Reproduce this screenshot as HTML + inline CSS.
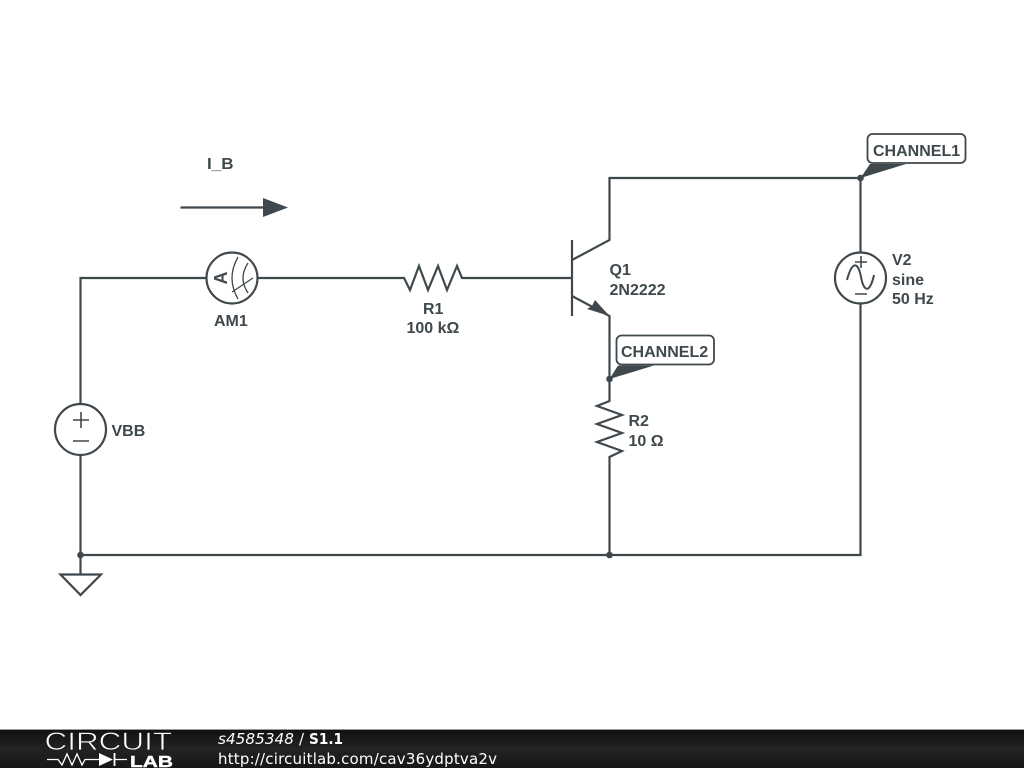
<!DOCTYPE html>
<html lang="en">
<head>
<meta charset="utf-8">
<title>S1.1</title>
<style>
html,body{margin:0;padding:0;width:1024px;height:768px;overflow:hidden;background:#fff}
svg{display:block}
.l{font-family:"Liberation Sans",sans-serif;font-weight:bold;font-size:16px;fill:#3f484c}
.w{fill:none;stroke:#3f484c;stroke-width:2.2;stroke-linejoin:miter}
.t{fill:none;stroke:#3f484c;stroke-width:1.3}
.f{font-family:"DejaVu Sans",sans-serif;font-size:15px;fill:#fff}
</style>
</head>
<body>
<svg width="1024" height="768" viewBox="0 0 1024 768" xmlns="http://www.w3.org/2000/svg">
<defs>
<linearGradient id="g" x1="0" y1="0" x2="0" y2="1">
<stop offset="0" stop-color="#101010"/><stop offset=".5" stop-color="#232323"/><stop offset="1" stop-color="#161616"/>
</linearGradient>
</defs>
<rect width="1024" height="768" fill="#fff"/>

<!-- wires -->
<path class="w" d="M80.5 404V278H206M258 278H404L410 290L419 266L428 290L438 266L447 290L457 266L462 278H572"/>
<path class="w" d="M80.5 455V574M80.5 555H860.5V304M860.5 252V178H609.5V240L572 260"/>
<path class="w" d="M572 240V316"/>
<path class="w" d="M572 296L609.5 316V401L597 406L622 415L597 424L622 433L597 442L622 451L609.5 457V555"/>
<path d="M609.5 316L587 309L592 306L595 300Z" fill="#3f484c"/>

<!-- ground -->
<path class="w" d="M60.5 574.500H101L80.500 595Z"/>

<!-- junctions -->
<circle cx="80.500" cy="555" r="3.300" fill="#3f484c"/>
<circle cx="609.500" cy="555" r="3.300" fill="#3f484c"/>
<circle cx="609.500" cy="379" r="3.300" fill="#3f484c"/>
<circle cx="860.500" cy="178" r="3.300" fill="#3f484c"/>

<!-- ammeter -->
<circle class="w" cx="232" cy="278" r="25.500"/>
<text class="l" transform="translate(227,278) rotate(-90)" text-anchor="middle" x="0" y="0" style="font-size:18px">A</text>
<path class="t" d="M238 257Q226 278 238 299M248 263Q238 278 248 293M232 292L253 278"/>

<!-- VBB -->
<circle class="w" cx="80.500" cy="429.500" r="25.500"/>
<path class="w" style="stroke-width:1.600" d="M73 420H89M81 412V428M73 441H89"/>

<!-- V2 -->
<circle class="w" cx="860.500" cy="278" r="25.500"/>
<path class="w" style="stroke-width:1.600" d="M855 262H867M861 256V268M855 294H867"/>
<path class="w" style="stroke-width:2" d="M847 280C852 261 858 261 861 277C864 293 870 293 874 275"/>

<!-- I_B arrow -->
<path class="w" d="M180.500 207.500H264"/>
<path d="M263 198L288 207.500L263 217Z" fill="#3f484c"/>

<!-- CHANNEL1 -->
<rect x="867.500" y="134" width="98" height="29" rx="5" fill="#fff" stroke="#3f484c" stroke-width="1.800"/>
<path d="M860.500 178L870 164H906Z" fill="#3f484c"/>
<text class="l" x="873" y="156">CHANNEL1</text>

<!-- CHANNEL2 -->
<rect x="616.500" y="335.500" width="97.500" height="29" rx="5" fill="#fff" stroke="#3f484c" stroke-width="1.800"/>
<path d="M609.500 379L618 365.500H654Z" fill="#3f484c"/>
<text class="l" x="621" y="357">CHANNEL2</text>

<!-- labels -->
<text class="l" x="207" y="169" textLength="26.500" lengthAdjust="spacingAndGlyphs">I_B</text>
<text class="l" x="214" y="326">AM1</text>
<text class="l" x="423" y="314">R1</text>
<text class="l" x="406.500" y="333">100 kΩ</text>
<text class="l" x="609.500" y="275">Q1</text>
<text class="l" x="609.500" y="295">2N2222</text>
<text class="l" x="628.500" y="426">R2</text>
<text class="l" x="628.500" y="446">10 Ω</text>
<text class="l" x="111.500" y="436">VBB</text>
<text class="l" x="892" y="265">V2</text>
<text class="l" x="892" y="285">sine</text>
<text class="l" x="892" y="304">50 Hz</text>

<!-- footer -->
<rect x="0" y="729" width="1024" height="39" fill="url(#g)"/>
<rect x="0" y="729" width="1024" height="1" fill="#999"/>
<text transform="scale(1.26,1)" x="35.300" y="750" style="font-family:'Liberation Sans',sans-serif;font-size:25px;fill:#fff;stroke:#1d1d1d;stroke-width:.7">CIRCUIT</text>
<path d="M47 759.500H58L62 765L67 754L72 765L77 754L82 765L85 759.500H99M114 759.500H127" fill="none" stroke="#fff" stroke-width="1.300"/>
<path d="M99 753L113 759.500L99 766Z" fill="#fff"/>
<path d="M114.500 753V766" stroke="#fff" stroke-width="1.800"/>
<text x="130" y="767" textLength="43" lengthAdjust="spacingAndGlyphs" style="font-family:'Liberation Sans',sans-serif;font-size:16px;font-weight:bold;fill:#fff;stroke:#fff;stroke-width:.4">LAB</text>
<text class="f" x="218" y="744" font-style="italic" textLength="76" lengthAdjust="spacingAndGlyphs">s4585348</text>
<text class="f" x="299" y="744">/</text>
<text class="f" x="309" y="744" font-weight="bold" textLength="34" lengthAdjust="spacingAndGlyphs">S1.1</text>
<text class="f" x="218" y="764" textLength="279">http://circuitlab.com/cav36ydptva2v</text>
</svg>
</body>
</html>
